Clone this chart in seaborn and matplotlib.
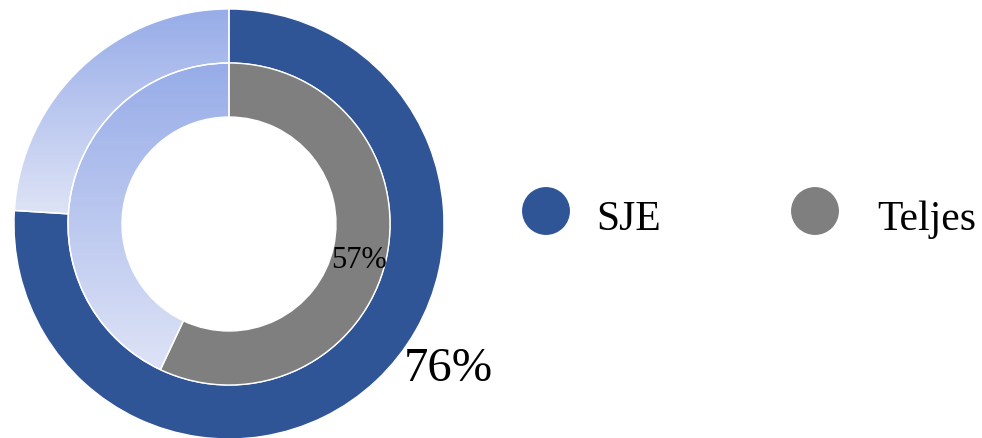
import numpy as np
import matplotlib
matplotlib.use("Agg")
import matplotlib.pyplot as plt
import seaborn as sns

# data
series_names = ["SJE", "Teljes"]
sje_share = [76, 24]
teljes_share = [57, 43]
value_labels = ["76%", "57%"]

sns.set_style("white")
plt.rcParams["font.family"] = ["Liberation Serif", "DejaVu Serif"]

dark_blue = "#2F5597"
gray = "#7F7F7F"
grad = sns.blend_palette(["#97ACE8", "#DEE3F6"], n_colors=256)

W, H = 982, 438
fig = plt.figure(figsize=(W / 100, H / 100), dpi=100)
ax = fig.add_axes([0, 0, 1, 1])

cx, cy = 229, H - 224
r_out, r_mid, r_in = 215, 161, 107

outer, _ = ax.pie(sje_share, radius=r_out, center=(cx, cy), startangle=90, counterclock=False,
                  colors=[dark_blue, "none"], frame=True,
                  wedgeprops=dict(width=r_out - r_mid, edgecolor="white", linewidth=1))
inner, _ = ax.pie(teljes_share, radius=r_mid, center=(cx, cy), startangle=90, counterclock=False,
                  colors=[gray, "none"], frame=True,
                  wedgeprops=dict(width=r_mid - r_in, edgecolor="white", linewidth=1))
ax.set_xlim(0, W); ax.set_ylim(0, H)
ax.set_aspect("equal"); ax.axis("off")

# vertical gradient fill for the remainder wedges
grad_img = np.array(grad)[:, None, :]
for w in (outer[1], inner[1]):
    ext = w.get_path().get_extents()
    im = ax.imshow(grad_img[::-1], extent=[ext.x0, ext.x1, ext.y0, ext.y1],
                   origin="lower", aspect="auto", zorder=w.get_zorder() - 0.1)
    im.set_clip_path(w)
    w.set_facecolor("none")
    w.set_zorder(w.get_zorder() + 1)

ax.text(448, H - 369, value_labels[0], fontsize=35, ha="center", va="center", color="black")
ax.text(359, H - 260, value_labels[1], fontsize=22, ha="center", va="center", color="black")

# legend drawn by hand: swatch + label
for name, col, mx, tx in [(series_names[0], dark_blue, 546, 596),
                          (series_names[1], gray, 815, 877)]:
    ax.scatter([mx], [H - 211], s=1190, color=col, edgecolors="none", clip_on=False)
    ax.text(tx, H - 230, name, fontsize=30, ha="left", va="baseline", color="black")

fig.savefig("out.png", dpi=100)
plt.close(fig)
